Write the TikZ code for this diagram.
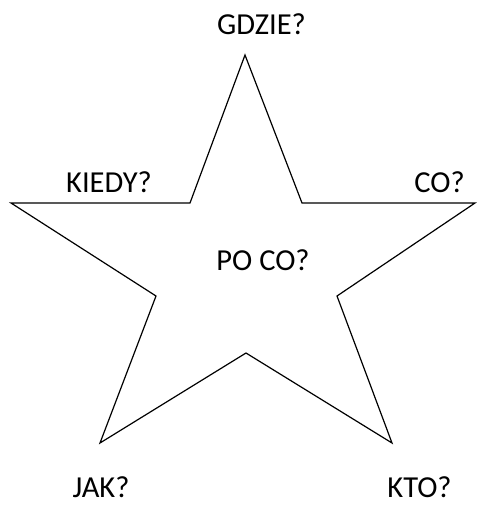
\documentclass[tikz,border=0pt]{standalone}
\usepackage{fontspec}
\setmainfont{Carlito}
\begin{document}
\begin{tikzpicture}[x=1pt,y=-1pt,
  lbl/.style={font=\fontsize{30.5}{34}\selectfont, inner sep=0pt, anchor=base},
  starline/.style={draw=black, line width=1.2pt, line join=miter}]
\useasboundingbox (0,0) rectangle (476,505);
\coordinate (T) at (245,55);
\coordinate (IR) at (302,203);
\coordinate (R) at (475,203);
\coordinate (IRL) at (337,296);
\coordinate (BR) at (392,443);
\coordinate (IB) at (246,353);
\coordinate (BL) at (100,443);
\coordinate (ILL) at (156,296);
\coordinate (L) at (11,203);
\coordinate (IL) at (190,203);
\draw[starline] (T) -- (IR) -- (R) -- (IRL) -- (BR) -- (IB) -- (BL) -- (ILL) -- (L) -- (IL) -- cycle;
\node[lbl] (gdzie) at (261.5,35) {GDZIE?};
\node[lbl] (kiedy) at (109,192) {KIEDY?};
\node[lbl] (co) at (439.5,192) {CO?};
\node[lbl] (poco) at (263,270) {PO CO?};
\node[lbl] (jak) at (101,497) {JAK?};
\node[lbl] (kto) at (419.5,497) {KTO?};
\end{tikzpicture}
\end{document}
